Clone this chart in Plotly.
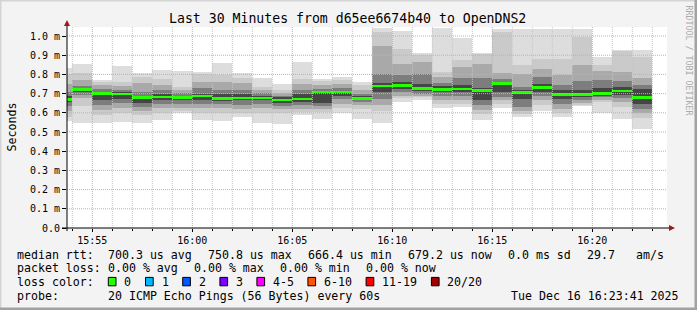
import plotly.graph_objects as go
import pandas as pd

# ---------------- data (ms) ----------------
minutes = pd.date_range('2025-12-16 15:53:30', periods=30, freq='60s')  # bar centres (1-minute steps)

MAX = [.835, .853, .770, .845, .805, .822, .817, .815, .860, .805, .780, .748, .865, .778, .786,
       .760, 1.040, 1.026, .914, 1.040, .990, .914, 1.037, 1.037, 1.037, 1.037, 1.037, .892, .926, .926]
HI2 = [.800, .810, .760, .760, .785, .775, .735, .800, .795, .780, .735, .720, .775, .765, .770,
       .745, 1.020, .935, .900, .815, .875, .905, 1.020, .850, .880, .880, .995, .850, .920, .890]
HI3 = [.750, .770, .745, .740, .755, .745, .720, .760, .760, .755, .720, .705, .750, .745, .750,
       .720, .950, .855, .865, .785, .840, .855, .810, .800, .830, .795, .850, .820, .815, .780]
HI4 = [.710, .740, .725, .720, .710, .720, .705, .730, .720, .720, .705, .690, .720, .725, .730,
       .700, .800, .795, .800, .755, .780, .780, .775, .735, .785, .745, .765, .770, .765, .745]
HI5 = [.690, .725, .710, .710, .690, .700, .690, .700, .700, .700, .690, .680, .700, .715, .715,
       .690, .755, .760, .750, .740, .745, .730, .760, .720, .750, .720, .720, .730, .735, .725]
LO5 = [.655, .710, .665, .670, .650, .665, .665, .665, .660, .665, .665, .650, .655, .650, .690,
       .665, .710, .725, .715, .710, .710, .665, .710, .670, .710, .670, .680, .690, .695, .645]
LO4 = [.635, .695, .640, .650, .630, .645, .645, .645, .645, .640, .645, .635, .640, .635, .670,
       .655, .670, .710, .700, .690, .690, .640, .685, .630, .690, .645, .665, .680, .675, .620]
LO3 = [.610, .675, .615, .625, .610, .625, .625, .625, .625, .620, .625, .620, .620, .620, .645,
       .640, .640, .690, .690, .665, .665, .615, .665, .610, .665, .620, .650, .665, .655, .600]
LO2 = [.580, .635, .590, .600, .590, .600, .610, .600, .600, .600, .600, .600, .605, .605, .625,
       .620, .610, .675, .680, .645, .645, .595, .645, .595, .640, .600, .640, .655, .630, .575]
MIN = [.555, .548, .545, .550, .548, .560, .597, .560, .557, .576, .548, .543, .590, .568, .600,
       .570, .548, .658, .666, .626, .632, .565, .623, .578, .612, .578, .635, .600, .568, .518]
MEDIAN = [.670, .720, .699, .698, .679, .682, .681, .688, .675, .677, .677, .667, .672, .708, .708,
          .675, .740, .744, .725, .723, .724, .715, .751, .705, .730, .694, .695, .701, .714, .681]

XTICKS = ['15:55', '16:00', '16:05', '16:10', '16:15', '16:20']
YTICK_VALS = [0.0, 0.1, 0.2, 0.3, 0.4, 0.5, 0.6, 0.7, 0.8, 0.9, 1.0]
YTICK_TEXT = ['0.0', '0.1 m', '0.2 m', '0.3 m', '0.4 m', '0.5 m', '0.6 m', '0.7 m', '0.8 m', '0.9 m', '1.0 m']

LOSS_LABELS = ['0', '1', '2', '3', '4-5', '6-10', '11-19', '20/20']
LOSS_COLORS = ['#26ff00', '#00b8ff', '#0059ff', '#7e00ff', '#ff00ff', '#ff5500', '#ff0000', '#a10000']

STATS_RTT = ['700.3 us avg', '750.8 us max', '666.4 us min', '679.2 us now', '0.0 ms sd', '29.7', 'am/s']
STATS_LOSS = ['0.00 % avg', '0.00 % max', '0.00 % min', '0.00 % now']

# ---------------- layout constants ----------------
W, H = 697, 310
L, R, T, B = 67, 30, 27, 82
PW, PH = W - L - R, H - T - B
FONT = 'DejaVu Sans Mono'
X0, X1 = '2025-12-16 15:53:44', '2025-12-16 16:23:44'


def px(x):
    return (x - L) / PW


def py(y):
    return (H - B - y) / PH


fig = go.Figure()

bands = [(MIN, MAX, '#dddddd'), (LO2, HI2, '#cacaca'), (LO3, HI3, '#a9a9a9'),
         (LO4, HI4, '#7d7d7d'), (LO5, HI5, '#454545')]
for lo, hi, col in bands:
    fig.add_trace(go.Bar(x=minutes, base=lo, y=[h - l for l, h in zip(lo, hi)], width=60000,
                         marker=dict(color=col, line=dict(width=0)), hoverinfo='skip',
                         showlegend=False))

half = 0.0072
fig.add_trace(go.Bar(x=minutes, base=[m - half for m in MEDIAN], y=[2 * half] * len(MEDIAN),
                     width=60000, marker=dict(color=LOSS_COLORS[0], line=dict(width=0)),
                     hoverinfo='skip', showlegend=False))

shapes = []
# grid above data (rrdtool style)
major = [pd.Timestamp('2025-12-16 ' + t) for t in XTICKS]
for t in pd.date_range('2025-12-16 15:54', '2025-12-16 16:23', freq='60s'):
    if t in major:
        continue
    shapes.append(dict(type='line', xref='x', yref='paper', x0=t, x1=t, y0=0, y1=1, layer='above',
                       line=dict(color='#c4c4c4', width=1, dash='1px,1px')))
for t in major:
    shapes.append(dict(type='line', xref='x', yref='paper', x0=t, x1=t, y0=0, y1=1, layer='above',
                       line=dict(color='#f19c9c', width=1, dash='1px,1px')))
for v in YTICK_VALS[1:]:
    shapes.append(dict(type='line', xref='paper', yref='y', x0=0, x1=1, y0=v, y1=v, layer='above',
                       line=dict(color='#f19c9c', width=1, dash='1px,1px')))

# axes with arrows
shapes.append(dict(type='line', xref='paper', yref='paper', x0=px(62), x1=px(670), y0=py(228), y1=py(228),
                   line=dict(color='black', width=1), layer='above'))
shapes.append(dict(type='line', xref='paper', yref='paper', x0=px(67), x1=px(67), y0=py(231), y1=py(24),
                   line=dict(color='black', width=1), layer='above'))
shapes.append(dict(type='path', xref='paper', yref='paper',
                   path=f'M {px(669)} {py(225)} L {px(675)} {py(228)} L {px(669)} {py(231)} Z',
                   fillcolor='#a01818', line=dict(width=0), layer='above'))
shapes.append(dict(type='path', xref='paper', yref='paper',
                   path=f'M {px(64)} {py(26)} L {px(67)} {py(20)} L {px(70)} {py(26)} Z',
                   fillcolor='#a01818', line=dict(width=0), layer='above'))

# frame
shapes.append(dict(type='rect', xref='paper', yref='paper', x0=px(0), x1=px(W), y0=py(0), y1=py(1.5),
                   fillcolor='#d4d4d4', line=dict(width=0), layer='below'))
shapes.append(dict(type='rect', xref='paper', yref='paper', x0=px(0), x1=px(1.5), y0=py(0), y1=py(H),
                   fillcolor='#d4d4d4', line=dict(width=0), layer='below'))
shapes.append(dict(type='rect', xref='paper', yref='paper', x0=px(0), x1=px(W), y0=py(H - 2.5), y1=py(H),
                   fillcolor='#a2a2a2', line=dict(width=0), layer='below'))
shapes.append(dict(type='rect', xref='paper', yref='paper', x0=px(W - 2.5), x1=px(W), y0=py(0), y1=py(H),
                   fillcolor='#a2a2a2', line=dict(width=0), layer='below'))

annotations = []


def txt(s, x, y, size=11.6, anchor='left', color='black', angle=0):
    annotations.append(dict(text=s, xref='paper', yref='paper', x=px(x), y=py(y), xanchor=anchor,
                            yanchor='middle', showarrow=False, textangle=angle,
                            font=dict(family=FONT, size=size, color=color)))


txt('Last 30 Minutes from d65ee6674b40 to OpenDNS2', 347.5, 18.5, size=13.2, anchor='center')
txt('Seconds', 11, 127.5, size=11.6, anchor='center', angle=-90)
txt('RRDTOOL / TOBI OETIKER', 688.5, 60, size=8.3, anchor='center', color='#ababab', angle=90)

ROW = [254.5, 268.3, 281.8, 296.0]
txt('median rtt:', 15, ROW[0])
for s, x in zip(STATS_RTT, [106.3, 206.3, 305.7, 405.7, 505.7, 585, 634]):
    txt(s, x, ROW[0])
txt('packet loss:', 15, ROW[1])
for s, x in zip(STATS_LOSS, [106.3, 192.3, 278.3, 364]):
    txt(s, x, ROW[1])
txt('loss color:', 15, ROW[2])
for s, c, x in zip(LOSS_LABELS, LOSS_COLORS, [123.3, 160.5, 197.7, 234.9, 271.9, 322.9, 381.1, 446.4]):
    txt(s, x - 1, ROW[2])
    shapes.append(dict(type='rect', xref='paper', yref='paper', x0=px(x - 15), x1=px(x - 7.3),
                       y0=py(285.8), y1=py(277.4), fillcolor=c, line=dict(color='black', width=1),
                       layer='above'))
txt('probe:', 15, ROW[3])
txt('20 ICMP Echo Pings (56 Bytes) every 60s', 106.3, ROW[3])
txt('Tue Dec 16 16:23:41 2025', 681, ROW[3], anchor='right')

fig.update_layout(
    width=W, height=H, autosize=False,
    margin=dict(l=L, r=R, t=T, b=B, pad=0),
    paper_bgcolor='#f3f3f3', plot_bgcolor='white',
    barmode='overlay', bargap=0,
    shapes=shapes, annotations=annotations,
    font=dict(family=FONT, color='black'),
    xaxis=dict(type='date', range=[X0, X1], showgrid=False, zeroline=False, showline=False,
               tickvals=major, ticktext=XTICKS, ticks='outside', ticklen=3, tickcolor='black',
               tickfont=dict(family=FONT, size=10, color='black'),
               minor=dict(dtick=60000, ticks='outside', ticklen=2, tickcolor='black', showgrid=False)),
    yaxis=dict(range=[0, 1.047], showgrid=False, zeroline=False, showline=False,
               tickvals=YTICK_VALS, ticktext=YTICK_TEXT, ticks='outside', ticklen=4, tickcolor='black',
               tickfont=dict(family=FONT, size=10, color='black')),
)

fig.write_html('out.html')
